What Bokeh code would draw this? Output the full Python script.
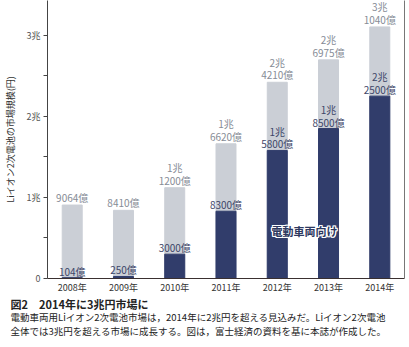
from bokeh.plotting import figure
from bokeh.models import Label, LinearAxis, FixedTicker, Range1d, ColumnDataSource, Title
from bokeh.core.properties import value
from bokeh.embed import file_html
from bokeh.resources import INLINE

FONT = "Noto Sans CJK JP"

years = ["2008年", "2009年", "2010年", "2011年", "2012年", "2013年", "2014年"]
total_oku = [9064, 8410, 11200, 16620, 24210, 26975, 31040]
ev_oku = [104, 250, 3000, 8300, 15800, 18500, 22500]
y_ticks = [0, 10000, 20000, 30000]
y_tick_labels = ["0", "1兆", "2兆", "3兆"]
ev_series_name = "電動車両向け"
caption_title = "図2　2014年に3兆円市場に"
caption_lines = [
    "電動車両用Liイオン2次電池市場は，2014年に2兆円を超える見込みだ。Liイオン2次電池",
    "全体では3兆円を超える市場に成長する。図は，富士経済の資料を基に本誌が作成した。",
]


def fmt(v):
    cho, oku = divmod(v, 10000)
    if cho:
        return f"{cho}兆\n{oku}億"
    return f"{oku}億"


xs = list(range(len(years)))
src = ColumnDataSource(dict(
    x=xs, total=total_oku, ev=ev_oku,
    tlab=[fmt(v) for v in total_oku], elab=[fmt(v) for v in ev_oku],
))

p = figure(width=409, height=347, output_backend="svg", toolbar_location=None,
           x_range=Range1d(-0.482, 6.482), y_range=Range1d(0, 34300),
           min_border_left=42, min_border_right=5, min_border_top=0,
           min_border_bottom=69, background_fill_color="white",
           border_fill_color="white")
p.outline_line_color = None
p.grid.visible = False

DARK = "#313d6b"
LIGHT = "#cbcfd6"
BW = 0.39

p.vbar(x="x", top="total", width=BW, source=src, color=LIGHT)
p.vbar(x="x", top="ev", width=BW, source=src, color=DARK)

p.text(x="x", y="total", text="tlab", source=src, text_align="center",
       text_baseline="bottom", y_offset=0, text_font=value(FONT),
       text_font_size="10px", text_line_height=0.85, text_color="#868c96")
p.text(x="x", y="ev", text="elab", source=src, text_align="center",
       text_baseline="bottom", y_offset=1, text_font=value(FONT),
       text_font_size="10px", text_line_height=0.85, text_color="#3d4668")

# x axis
xa = p.xaxis[0]
xa.ticker = FixedTicker(ticks=xs)
xa.major_label_overrides = {i: y for i, y in enumerate(years)}
xa.major_tick_out = 0
xa.major_tick_in = 0
xa.minor_tick_out = 0
xa.major_label_standoff = 2
xa.major_label_text_font = FONT
xa.major_label_text_font_size = "9px"
xa.major_label_text_color = "#333333"
xa.axis_line_color = "#3a3030"
xa.axis_line_width = 1.2

# y axis
ya = p.yaxis[0]
ya.ticker = FixedTicker(ticks=y_ticks, minor_ticks=[5000, 15000, 25000])
ya.major_label_overrides = {t: l for t, l in zip(y_ticks, y_tick_labels)}
ya.major_tick_out = 4
ya.major_tick_in = 0
ya.minor_tick_out = 4
ya.minor_tick_in = 0
ya.major_label_standoff = 3
ya.major_label_text_font = FONT
ya.major_label_text_font_size = "9px"
ya.major_label_text_color = "#555555"
ya.axis_line_color = "#444444"
ya.major_tick_line_color = "#444444"
ya.minor_tick_line_color = "#444444"
ya.axis_label = "Liイオン2次電池の市場規模(円)"
ya.axis_label_text_font = FONT
ya.axis_label_text_font_size = "9px"
ya.axis_label_text_font_style = "normal"
ya.axis_label_text_color = "#333333"
ya.axis_label_standoff = 7

# right frame line
ra = LinearAxis(ticker=FixedTicker(ticks=[]), major_tick_out=0, major_tick_in=0,
                minor_tick_out=0, major_label_text_font_size="0px",
                axis_line_color="#777777")
p.add_layout(ra, "right")

# series label with white halo
lx, ly = 4.53, 5900
for dx, dy in [(-1, -1), (-1, 0), (-1, 1), (0, -1), (0, 1), (1, -1), (1, 0), (1, 1)]:
    p.add_layout(Label(x=lx, y=ly, x_offset=dx, y_offset=dy, text=ev_series_name,
                       text_font=FONT, text_font_size="11px", text_font_style="bold",
                       text_color="white", text_align="center", text_baseline="middle"))
p.add_layout(Label(x=lx, y=ly, text=ev_series_name,
                   text_font=FONT, text_font_size="11px", text_font_style="bold",
                   text_color="#2d3860", text_align="center", text_baseline="middle"))

# caption as titles below the x axis
p.add_layout(Title(text=caption_title, align="left", offset=-37, standoff=-5,
                   text_font=FONT, text_font_size="11px", text_font_style="bold",
                   text_color="#222222"), "below")
for line, so in zip(caption_lines, [-4, 0]):
    p.add_layout(Title(text=line, align="left", offset=-37, standoff=so,
                       text_font=FONT, text_font_size="9.5px",
                       text_font_style="normal", text_color="#222222"), "below")

open("out.html", "w").write(file_html(p, INLINE))
